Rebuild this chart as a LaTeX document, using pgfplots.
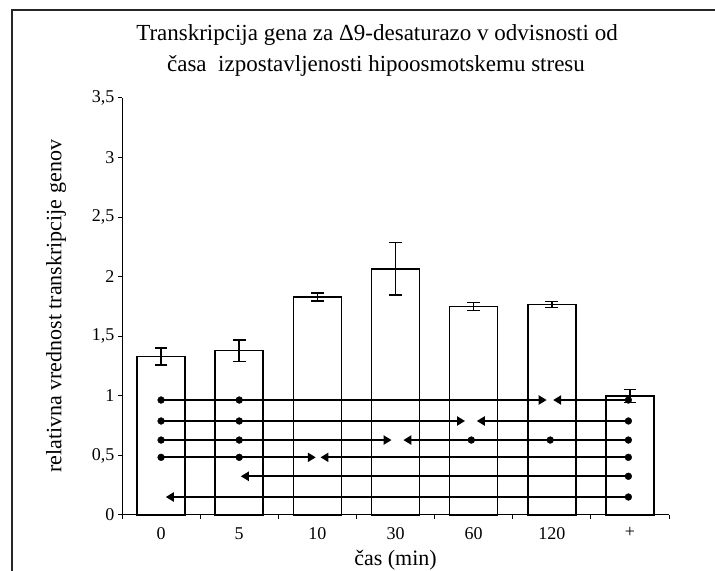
\documentclass[border=0pt]{standalone}
\usepackage{fontspec}
\setmainfont{Liberation Serif}
\usepackage{pgfplots}
\pgfplotsset{compat=1.18}
\usetikzlibrary{arrows.meta}
\pgfplotsset{
  arrline/.style={line width=2.2bp, black, no markers, -{Triangle[length=8bp,width=9bp]}},
  dots/.style={only marks, mark=*, mark size=3.4bp, black},
}
\begin{document}
\begin{tikzpicture}[x=1bp,y=1bp]
\useasboundingbox (0,0) rectangle (715,571);
\draw[line width=1.5bp, black!85] (12,-5) -- (12,561) -- (720,561);
\node[anchor=base, font=\fontsize{23bp}{27bp}\selectfont] at (377,530) {Transkripcija gena za Δ9-desaturazo v odvisnosti od};
\node[anchor=base, font=\fontsize{23bp}{27bp}\selectfont] at (376,499) {časa\ \ izpostavljenosti hipoosmotskemu stresu};
\begin{axis}[
  at={(122bp,56bp)}, anchor=south west,
  scale only axis, width=547bp, height=417bp,
  xmin=-0.5, xmax=6.5, ymin=0, ymax=3.5,
  axis lines=left, axis line style={-, line width=1bp, black},
  tick align=outside,
  major tick length=4bp,
  tick style={line width=1bp, black},
  xtick={-0.5,0.5,1.5,2.5,3.5,4.5,5.5,6.5},
  xticklabels={},
  extra x ticks={0,1,2,3,4,5,6},
  extra x tick labels={0,5,10,30,60,120,+},
  extra x tick style={major tick length=0pt, xticklabel style={yshift=-9bp}},
  ytick={0,0.5,1,1.5,2,2.5,3,3.5},
  /pgf/number format/.cd, use comma, 1000 sep={}, assume math mode=true,
  /pgfplots/.cd,
  tick label style={font=\fontsize{18bp}{21bp}\selectfont},
  xlabel={čas (min)},
  ylabel={relativna vrednost transkripcije genov},
  label style={font=\fontsize{22bp}{26bp}\selectfont},
  xlabel style={at={(axis description cs:0.5,0)}, anchor=center, yshift=-45bp},
  ylabel style={at={(axis description cs:0,0.5)}, anchor=center, yshift=66bp},
  clip=false,
]
\addplot[ybar, bar width=0.614, fill=white, draw=black, line width=1.5bp,
  error bars/.cd, y dir=both, y explicit,
  error bar style={line width=1.5bp},
  error mark options={rotate=90, mark size=6.3bp, line width=1.5bp}]
  table[x=x, y=y, y error=e] {
  x y e
  0 1.33 0.07
  1 1.38 0.09
  2 1.83 0.035
  3 2.065 0.22
  4 1.75 0.033
  5 1.765 0.025
  6 1.00 0.055
};
% line 1
\addplot[arrline] coordinates {(0,0.965) (4.935,0.965)};
\addplot[arrline] coordinates {(5.98,0.965) (5.017,0.965)};
\addplot[dots] coordinates {(0,0.965) (1,0.965) (5.98,0.965)};
% line 2
\addplot[arrline] coordinates {(0,0.789) (3.89,0.789)};
\addplot[arrline] coordinates {(5.98,0.789) (4.04,0.789)};
\addplot[dots] coordinates {(0,0.789) (1,0.789) (5.98,0.789)};
% line 3
\addplot[arrline] coordinates {(0,0.629) (2.95,0.629)};
\addplot[arrline] coordinates {(5.98,0.629) (3.10,0.629)};
\addplot[dots] coordinates {(0,0.629) (1,0.629) (3.97,0.629) (4.98,0.629) (5.98,0.629)};
% line 4
\addplot[arrline] coordinates {(0,0.484) (1.98,0.484)};
\addplot[arrline] coordinates {(5.98,0.484) (2.04,0.484)};
\addplot[dots] coordinates {(0,0.484) (1,0.484) (5.98,0.484)};
% line 5
\addplot[arrline] coordinates {(5.98,0.325) (1.02,0.325)};
\addplot[dots] coordinates {(5.98,0.325)};
% line 6
\addplot[arrline] coordinates {(5.98,0.151) (0.06,0.151)};
\addplot[dots] coordinates {(5.98,0.151)};
\end{axis}
\end{tikzpicture}
\end{document}
